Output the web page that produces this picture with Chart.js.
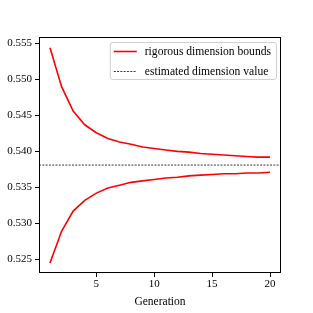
<!DOCTYPE html>
<html>
<head>
<meta charset="utf-8">
<script src="https://cdn.jsdelivr.net/npm/chart.js@4"></script>
<style>
  html, body { margin: 0; padding: 0; background: #fff; }
  #wrap { width: 313px; height: 313px; }
</style>
</head>
<body>
<div id="wrap"><canvas id="chart" width="313" height="313"></canvas></div>
<script>
const generations = [1, 2, 3, 4, 5, 6, 7, 8, 9, 10, 11, 12, 13, 14, 15, 16, 17, 18, 19, 20];
const upperBound = [0.5544, 0.5490, 0.5456, 0.5437, 0.5426, 0.5418, 0.5413, 0.5410, 0.5406, 0.5404,
                    0.5402, 0.5400, 0.5399, 0.5397, 0.5396, 0.5395, 0.5394, 0.5393, 0.5392, 0.5392];
const lowerBound = [0.5245, 0.5289, 0.5317, 0.5332, 0.5342, 0.5349, 0.5353, 0.5357, 0.5359, 0.5361,
                    0.5363, 0.5364, 0.5366, 0.5367, 0.5368, 0.5369, 0.5369, 0.5370, 0.5370, 0.5371];
const estimatedValue = 0.5381;
const xTicks = [5, 10, 15, 20];
const yTicks = [0.525, 0.530, 0.535, 0.540, 0.545, 0.550, 0.555];
const xRange = [0.05, 20.95];
const yRange = [0.5231, 0.5559];

const FONT = '"Liberation Serif", "DejaVu Serif", serif';

const toPoints = (ys) => generations.map((g, i) => ({ x: g, y: ys[i] }));

// frame on all four sides, like matplotlib spines
const framePlugin = {
  id: 'frame',
  afterDatasetsDraw(chart) {
    const { ctx, chartArea: a } = chart;
    ctx.save();
    ctx.strokeStyle = '#000';
    ctx.lineWidth = 1;
    ctx.strokeRect(a.left + 0.5, a.top + 0.5, a.right - a.left - 1, a.bottom - a.top - 1);
    ctx.restore();
  }
};

// legend box inside the plot, top right
const boxLegend = {
  id: 'boxLegend',
  afterDraw(chart) {
    const { ctx, chartArea: a } = chart;
    const items = chart.data.datasets.filter(d => d.showInLegend);
    ctx.save();
    ctx.font = '11.6px ' + FONT;
    const textW = Math.max(...items.map(d => ctx.measureText(d.label).width));
    const right = a.right - 5;
    const w = textW + 40;
    const left = right - w;
    const top = a.top + 5;
    const h = 37;
    ctx.fillStyle = 'rgba(255,255,255,0.8)';
    ctx.strokeStyle = '#d0d0d0';
    ctx.lineWidth = 1;
    ctx.beginPath();
    ctx.roundRect(left + 0.5, top + 0.5, w, h, 2.5);
    ctx.fill();
    ctx.stroke();
    items.forEach((d, i) => {
      const y = top + 9.5 + i * 20;
      ctx.strokeStyle = d.borderColor;
      ctx.lineWidth = d.borderWidth;
      ctx.setLineDash(d.borderDash || []);
      ctx.beginPath();
      ctx.moveTo(left + 4, y);
      ctx.lineTo(left + 27, y);
      ctx.stroke();
      ctx.setLineDash([]);
      ctx.fillStyle = '#000';
      ctx.textBaseline = 'middle';
      ctx.fillText(d.label, left + 35, y);
    });
    ctx.restore();
  }
};

const chart = new Chart(document.getElementById('chart'), {
  type: 'line',
  data: {
    datasets: [
      {
        label: 'rigorous dimension bounds',
        data: toPoints(upperBound),
        borderColor: '#ff0000',
        borderWidth: 1.6,
        pointRadius: 0,
        tension: 0,
        showInLegend: true
      },
      {
        label: 'rigorous dimension bounds',
        data: toPoints(lowerBound),
        borderColor: '#ff0000',
        borderWidth: 1.6,
        pointRadius: 0,
        tension: 0
      },
      {
        label: 'estimated dimension value',
        data: [{ x: xRange[0], y: estimatedValue }, { x: xRange[1], y: estimatedValue }],
        borderColor: '#000',
        borderWidth: 0.8,
        borderDash: [2, 1.3],
        pointRadius: 0,
        showInLegend: true
      }
    ]
  },
  options: {
    responsive: false,
    animation: false,
    layout: { padding: { top: 37, right: 32, left: 0, bottom: 0 } },
    plugins: {
      legend: { display: false },
      tooltip: { enabled: false }
    },
    scales: {
      x: {
        type: 'linear',
        min: xRange[0],
        max: xRange[1],
        afterBuildTicks: (s) => { s.ticks = xTicks.map(v => ({ value: v })); },
        afterFit: (s) => { s.height = 40; },
        grid: { display: true, drawOnChartArea: false, drawTicks: true, tickLength: 4, color: '#000' },
        border: { display: false },
        ticks: { color: '#000', font: { family: FONT, size: 11 }, padding: 1, maxRotation: 0 },
        title: { display: true, text: 'Generation', color: '#000', font: { family: FONT, size: 11.5 }, padding: { top: 0 } }
      },
      y: {
        type: 'linear',
        min: yRange[0],
        max: yRange[1],
        afterBuildTicks: (s) => { s.ticks = yTicks.map(v => ({ value: v })); },
        afterFit: (s) => { s.width = 39; },
        grid: { display: true, drawOnChartArea: false, drawTicks: true, tickLength: 4, color: '#000' },
        border: { display: false },
        ticks: { color: '#000', font: { family: FONT, size: 11 }, padding: 3, callback: (v) => v.toFixed(3) }
      }
    }
  },
  plugins: [framePlugin, boxLegend]
});
</script>
</body>
</html>
